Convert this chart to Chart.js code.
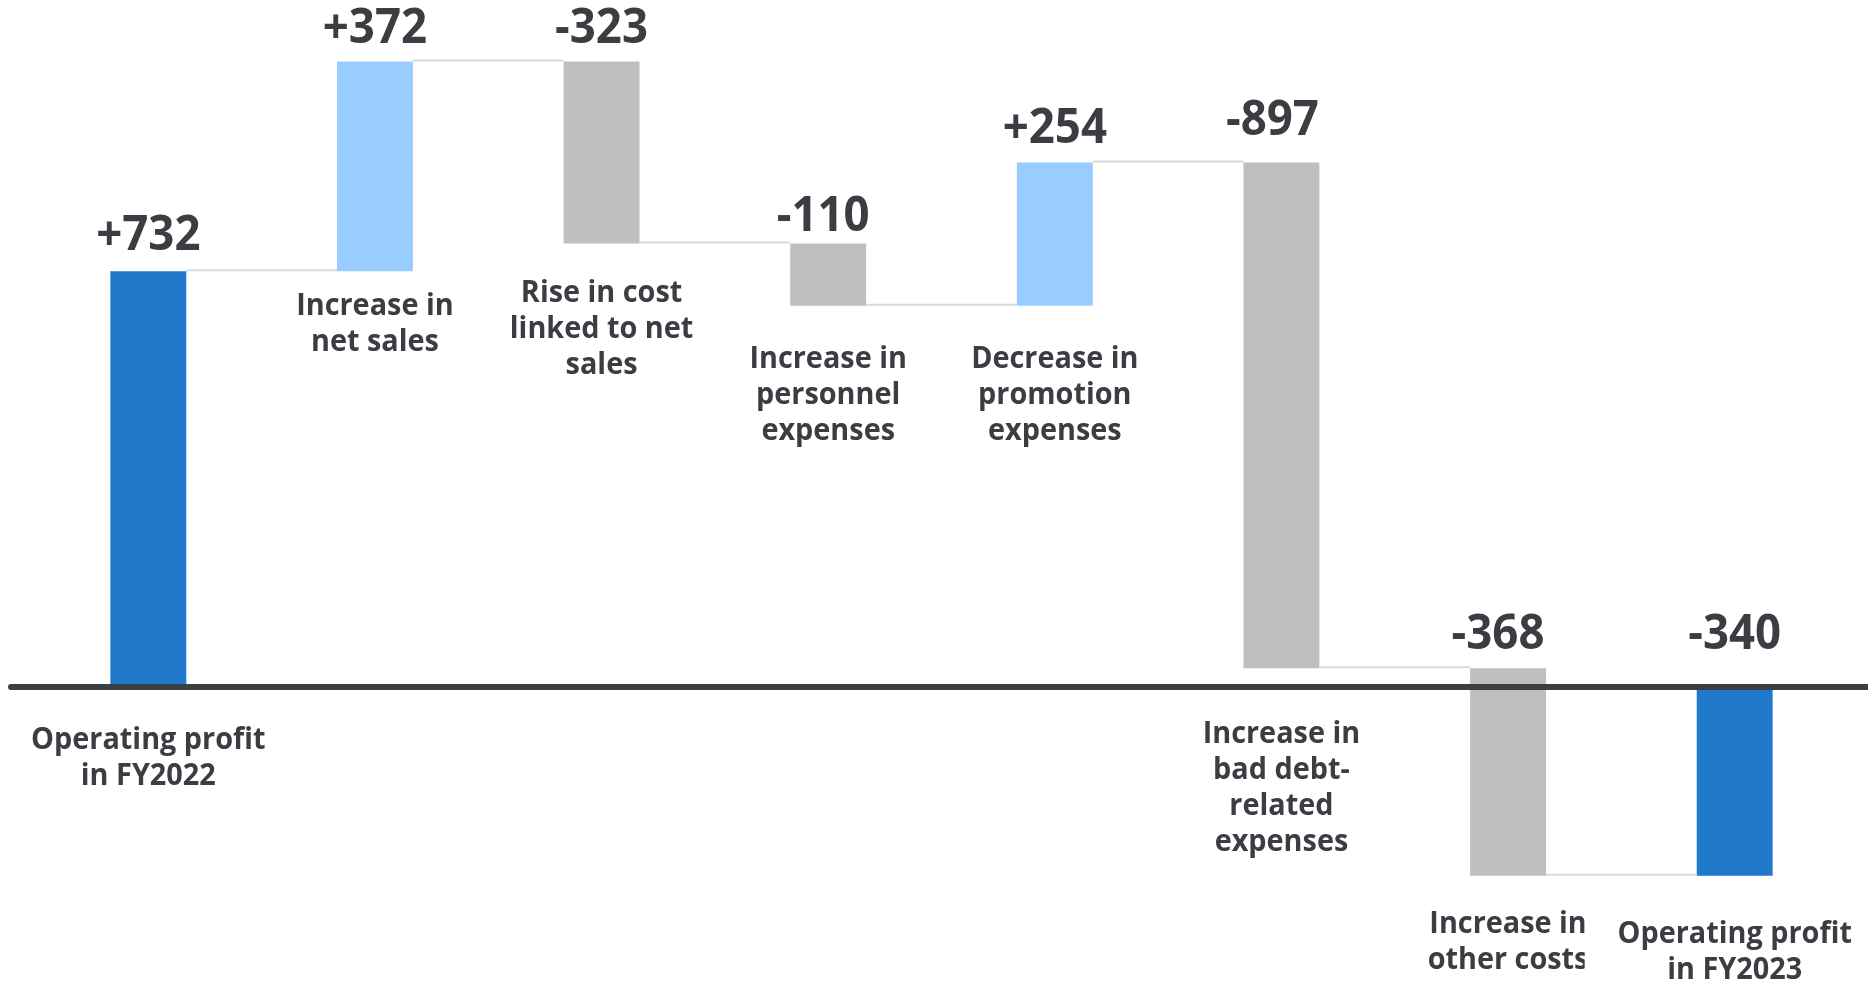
<!DOCTYPE html>
<html>
<head>
<meta charset="utf-8">
<script src="https://cdn.jsdelivr.net/npm/chart.js@4"></script>
<style>
    html, body { margin: 0; padding: 0; background: #ffffff; }
    #waterfall { display: block; }
</style>
</head>
<body>
<canvas id="waterfall" width="1868" height="984"></canvas>
<script>
// Operating profit bridge FY2022 -> FY2023
const categories = [
    ['Operating profit', 'in FY2022'],
    ['Increase in', 'net sales'],
    ['Rise in cost', 'linked to net', 'sales'],
    ['Increase in', 'personnel', 'expenses'],
    ['Decrease in', 'promotion', 'expenses'],
    ['Increase in', 'bad debt-', 'related', 'expenses'],
    ['Increase in', 'other costs'],
    ['Operating profit', 'in FY2023']
];
const startValue = 732;
const changes = [372, -323, -110, 254, -897, -368];

const TEXT = '#3a3d42';
const TOTAL_BLUE = '#2079cb';
const UP_BLUE = '#99ccff';
const DOWN_GRAY = '#bfbfbf';

// running totals -> floating bar ranges
const ranges = [[0, startValue]];
const valueLabels = ['+' + startValue];
let running = startValue;
changes.forEach(c => {
    ranges.push([running, running + c]);
    valueLabels.push((c > 0 ? '+' : '-') + Math.abs(c));
    running += c;
});
const endValue = running;
ranges.push([0, endValue]);
valueLabels.push((endValue > 0 ? '+' : '-') + Math.abs(endValue));

const barColors = ranges.map((r, i) => {
    if (i === 0 || i === ranges.length - 1) return TOTAL_BLUE;
    return r[1] >= r[0] ? UP_BLUE : DOWN_GRAY;
});

// small per-bar nudges for the text above / below each bar
const valueGap = [21, 18, 18, 13, 19, 27, 19, 35];
const valueShift = [0, 0, 0, -5, 0, -9, -10, 0];
const nameGap = [65, 44, 58, 62, 62, 75, 57, 67];

function squeezedText(ctx, text, x, y, sx) {
    ctx.save();
    ctx.translate(x, y);
    ctx.scale(sx, 1);
    ctx.fillText(text, 0, 0);
    ctx.restore();
}

const waterfallDecor = {
    id: 'waterfallDecor',
    afterDatasetsDraw(chart) {
        const ctx = chart.ctx;
        const meta = chart.getDatasetMeta(0);
        const y = chart.scales.y;
        const zero = y.getPixelForValue(0);

        // connectors between neighbouring bars
        ctx.save();
        ctx.strokeStyle = '#dadada';
        ctx.lineWidth = 2;
        for (let i = 0; i < meta.data.length - 1; i++) {
            const a = meta.data[i], b = meta.data[i + 1];
            const level = y.getPixelForValue(ranges[i][1]) - 1;
            ctx.beginPath();
            ctx.moveTo(a.x + a.width / 2, level);
            ctx.lineTo(b.x - b.width / 2, level);
            ctx.stroke();
        }
        ctx.restore();

        // zero axis
        ctx.save();
        ctx.strokeStyle = '#3b3e43';
        ctx.lineWidth = 6;
        ctx.lineCap = 'round';
        ctx.beginPath();
        ctx.moveTo(11, zero + 3);
        ctx.lineTo(chart.width + 10, zero + 3);
        ctx.stroke();
        ctx.restore();

        // value labels above bars
        ctx.save();
        ctx.fillStyle = TEXT;
        ctx.textAlign = 'center';
        ctx.textBaseline = 'alphabetic';
        ctx.font = 'bold 48px "Open Sans"';
        meta.data.forEach((bar, i) => {
            const top = Math.min(y.getPixelForValue(ranges[i][0]), y.getPixelForValue(ranges[i][1]));
            squeezedText(ctx, valueLabels[i], bar.x + valueShift[i], top - valueGap[i], 0.95);
        });
        ctx.restore();

        // category names below bars
        ctx.save();
        ctx.fillStyle = TEXT;
        ctx.textAlign = 'center';
        ctx.textBaseline = 'alphabetic';
        ctx.font = 'bold 31px "Open Sans"';
        meta.data.forEach((bar, i) => {
            const bottom = Math.max(y.getPixelForValue(ranges[i][0]), y.getPixelForValue(ranges[i][1]));
            const base = bottom + nameGap[i];
            if (i === meta.data.length - 1) {
                ctx.save();
                ctx.fillStyle = '#ffffff';
                ctx.fillRect(bar.x - 150, base - 40, 300, 120);
                ctx.restore();
            }
            categories[i].forEach((line, k) => {
                squeezedText(ctx, line, bar.x, base + k * 36, 0.93);
            });
        });
        ctx.restore();
    }
};

new Chart(document.getElementById('waterfall').getContext('2d'), {
    type: 'bar',
    data: {
        labels: categories.map(c => c.join(' ')),
        datasets: [{
            data: ranges,
            backgroundColor: barColors,
            borderWidth: 0,
            barPercentage: 0.335,
            categoryPercentage: 1
        }]
    },
    options: {
        responsive: false,
        animation: false,
        devicePixelRatio: 1,
        layout: { padding: { left: 35, right: 20, top: 0, bottom: 0 } },
        scales: {
            x: { display: false },
            y: { display: false, min: -532, max: 1213 }
        },
        plugins: {
            legend: { display: false },
            tooltip: { enabled: false }
        }
    },
    plugins: [waterfallDecor]
});
</script>
</body>
</html>
